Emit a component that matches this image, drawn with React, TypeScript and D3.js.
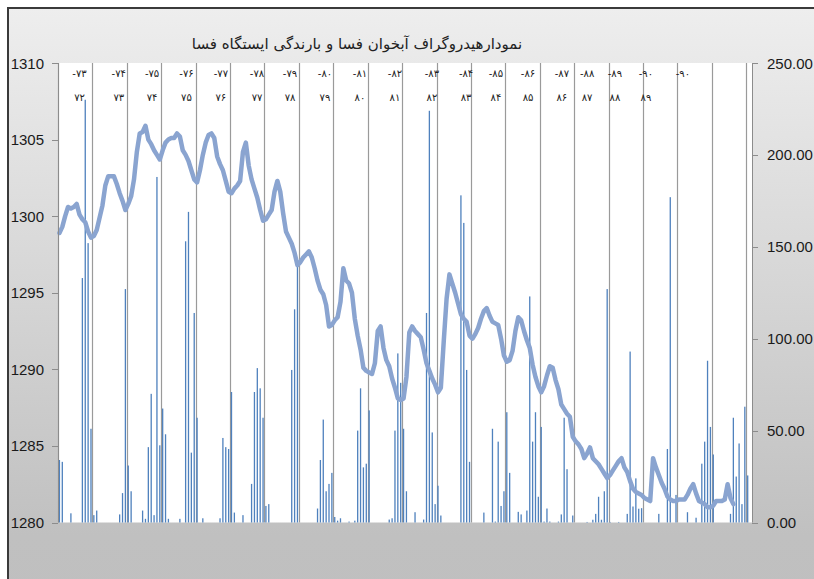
import React from "react";
import * as d3 from "d3";

// ---- data ----
const TITLE = "نمودارهیدروگراف آبخوان فسا و بارندگی ایستگاه فسا";
const MONTHS = 242;
const YEAR_LEN = 12;
const YEAR_COUNT = 21;

// groundwater level (m, left axis), one value per month
const waterLevel = [
  1298.9, 1299.3, 1300.0, 1300.6, 1300.5, 1300.6, 1300.8, 1300.1, 1299.8, 1299.6,
  1299.0, 1298.6, 1298.7, 1299.1, 1299.9, 1300.7, 1302.0, 1302.6, 1302.6, 1302.6,
  1302.1, 1301.5, 1301.0, 1300.4, 1300.8, 1301.3, 1302.4, 1304.2, 1305.4, 1305.5,
  1305.9, 1305.0, 1304.7, 1304.3, 1304.0, 1303.7, 1304.3, 1304.8, 1305.0, 1305.1,
  1305.1, 1305.4, 1305.2, 1304.3, 1304.0, 1303.6, 1303.0, 1302.4, 1302.2, 1303.0,
  1304.0, 1304.8, 1305.3, 1305.4, 1305.1, 1303.9, 1303.4, 1303.0, 1302.3, 1301.6,
  1301.5, 1301.8, 1302.0, 1302.3, 1304.2, 1304.8, 1303.3, 1302.4, 1301.8, 1301.2,
  1300.4, 1299.7, 1299.8, 1300.1, 1300.4, 1301.6, 1302.3, 1301.6, 1300.2, 1299.0,
  1298.6, 1298.2, 1297.6, 1296.8, 1297.0, 1297.3, 1297.5, 1297.7, 1297.3, 1296.6,
  1295.8, 1295.2, 1294.9, 1294.2, 1292.8, 1292.9, 1293.2, 1293.4, 1294.4, 1296.6,
  1295.8, 1295.6, 1295.0, 1293.3, 1292.2, 1291.3, 1290.1, 1289.9, 1289.8, 1289.7,
  1290.4, 1292.5, 1292.8, 1291.4, 1290.6, 1290.2, 1289.4, 1288.8, 1288.1, 1288.0,
  1288.1, 1289.5, 1292.4, 1292.8, 1292.5, 1292.3, 1292.1, 1291.3, 1290.4, 1289.9,
  1289.4, 1289.0, 1288.5, 1288.8, 1291.8, 1294.6, 1296.2, 1295.6, 1295.0, 1294.3,
  1293.6, 1293.3, 1293.1, 1292.2, 1292.0, 1292.3, 1292.7, 1293.3, 1293.8, 1294.0,
  1293.5, 1293.1, 1293.0, 1292.9, 1292.0, 1290.9, 1290.5, 1290.6, 1291.2, 1292.5,
  1293.4, 1293.2, 1292.5, 1291.9, 1291.4, 1290.3, 1289.5, 1288.9, 1288.5, 1288.9,
  1289.6, 1290.2, 1290.1, 1289.3, 1288.7, 1287.7, 1287.4, 1287.1, 1286.9, 1285.6,
  1285.3, 1285.1, 1284.8, 1284.2, 1284.5, 1284.9, 1284.2, 1284.0, 1283.8, 1283.5,
  1283.2, 1282.9, 1283.1, 1283.4, 1283.7, 1284.0, 1284.2, 1283.6, 1283.3, 1282.7,
  1282.2, 1282.0, 1281.9, 1281.8, 1281.6, 1281.5, 1281.4, 1284.2, 1283.6, 1283.1,
  1282.6, 1282.2, 1281.7, 1281.5, 1281.4, 1281.4, 1281.5, 1281.5, 1281.5, 1281.8,
  1282.2, 1282.5, 1281.9, 1281.4, 1281.3, 1281.2, 1281.0, 1281.0, 1281.1, 1281.4,
  1281.4, 1281.4, 1281.5, 1282.5, 1281.6, 1281.2,
];

// monthly rainfall (mm, right axis): month index and amount
const rainMonth = [
  0, 1, 4, 8, 9, 10, 11, 12, 13, 21, 22, 23, 24, 25, 29, 30, 31, 32, 33, 34,
  35, 36, 37, 38, 42, 44, 45, 46, 47, 48, 50, 56, 57, 58, 59, 60, 61, 64, 67, 68,
  69, 70, 71, 72, 73, 81, 82, 83, 90, 91, 92, 93, 94, 95, 96, 97, 98, 101, 103, 104,
  105, 106, 107, 108, 115, 116, 117, 118, 119, 120, 121, 124, 127, 128, 129, 130, 131, 132, 133, 140,
  141, 142, 143, 148, 151, 152, 153, 154, 155, 156, 157, 160, 161, 163, 164, 165, 166, 167, 168, 169,
  170, 171, 174, 175, 176, 177, 179, 184, 186, 187, 188, 189, 190, 191, 192, 195, 198, 199, 200, 201,
  202, 203, 209, 212, 213, 215, 219, 222, 224, 225, 226, 227, 228, 234, 235, 236, 237, 238, 239, 240,
];
const rainMm = [
  34, 33, 5, 133, 230, 152, 51, 4, 6.5, 4.4, 16, 127, 31, 17, 6.5, 2, 41, 70, 4, 188,
  42, 62, 48, 2, 2, 153, 169, 38, 114, 57, 2.3, 2.3, 46, 41, 40, 71, 5.4, 4, 21, 71,
  84, 73, 57, 9, 10, 83, 116, 141, 7.6, 34, 56, 17, 21, 27, 3, 1, 2.3, 0.5, 1, 50,
  73, 30, 32, 61, 1.6, 2.3, 50, 92, 76, 51, 17, 5.6, 1.6, 114, 224, 49, 10, 20, 3.8, 178,
  163, 83, 33, 5.4, 51, 0.5, 44, 9, 17, 60, 27, 5.8, 4.4, 6.5, 123, 44, 60, 14, 52, 0.5,
  7.6, 0.5, 0.5, 4.4, 57, 29, 3.8, 0.3, 1.5, 4.7, 14, 1.5, 17, 127, 0.3, 0.3, 4.7, 93, 8.7, 24,
  7.5, 7.8, 4.7, 40, 177, 15, 5.6, 2.6, 32, 44, 88, 52, 37, 4.7, 57, 25, 43, 10, 63, 25.6,
];

// water-year labels (two lines) and the month they sit over
const labelTop = [
  "-۷۳", "-۷۴", "-۷۵", "-۷۶", "-۷۷", "-۷۸", "-۷۹", "-۸۰", "-۸۱", "-۸۲",
  "-۸۳", "-۸۴", "-۸۵", "-۸۶", "-۸۷", "-۸۸", "-۸۹", "-۹۰", "-۹۰",
];
const labelBottom = [
  "۷۲", "۷۳", "۷۴", "۷۵", "۷۶", "۷۷", "۷۸", "۷۹", "۸۰", "۸۱",
  "۸۲", "۸۳", "۸۴", "۸۵", "۸۶", "۸۷", "۸۸", "۸۹", "",
];
const labelMonth = [
  7.5, 21.2, 32.8, 44.8, 56.8, 69.4, 80.9, 93.1, 105.3, 117.5,
  130.4, 142.3, 152.7, 163.9, 175.7, 184.5, 194.2, 205.0, 217.9,
];

const leftTicks = [1280, 1285, 1290, 1295, 1300, 1305, 1310];
const rightTicks = [0, 50, 100, 150, 200, 250];

export default function App() {
  const W = 814, H = 579;
  const left = 58, right = 752, top = 63, bottom = 522.5;

  const x = d3.scaleLinear().domain([0, MONTHS]).range([left, right]);
  const yL = d3.scaleLinear().domain([1280, 1310]).range([bottom, top]);
  const yR = d3.scaleLinear().domain([0, 250]).range([bottom, top]);
  const barW = 1.3;

  const line = d3
    .line<number>()
    .x((_, i) => x(i + 0.5))
    .y((d) => yL(d))
    .curve(d3.curveLinear);

  const yearLines = d3.range(0, YEAR_COUNT).map((k) => k * YEAR_LEN);

  const axisFont = "'Liberation Sans', Arial, sans-serif";
  const faFont = "'DejaVu Sans', sans-serif";

  return (
    <svg
      width={W}
      height={H}
      style={{ position: "absolute", left: 0, top: 0, display: "block" }}
    >
      <defs>
        <linearGradient id="bg" x1="0" y1="0" x2="0" y2="1">
          <stop offset="0" stopColor="#eeeeee" />
          <stop offset="0.88" stopColor="#c0c0c0" />
          <stop offset="1" stopColor="#bfbfbf" />
        </linearGradient>
      </defs>
      <rect x={0} y={0} width={W} height={H} fill="#ffffff" />
      <rect
        x={8}
        y={8}
        width={830}
        height={600}
        fill="url(#bg)"
        stroke="#3a3a3a"
        strokeWidth={2}
      />
      <text
        x={357}
        y={49}
        textAnchor="middle"
        fontFamily={faFont}
        fontSize={15}
        fill="#222"
        direction="rtl"
      >
        {TITLE}
      </text>

      {/* plot area */}
      <rect x={left} y={top} width={right - left} height={bottom - top} fill="#ffffff" />

      {/* year separators */}
      {yearLines.map((m) => (
        <line
          key={"g" + m}
          x1={Math.round(x(m)) + 0.5}
          x2={Math.round(x(m)) + 0.5}
          y1={top}
          y2={bottom}
          stroke="#9a9a9a"
          strokeWidth={1.2}
        />
      ))}

      {/* rainfall bars */}
      {rainMonth.map((m, i) => (
        <rect
          key={"b" + i}
          x={x(m + 0.5) - barW / 2}
          y={yR(rainMm[i])}
          width={barW}
          height={bottom - yR(rainMm[i])}
          fill="#4f81bd"
        />
      ))}

      {/* hydrograph */}
      <path
        d={line(waterLevel) || ""}
        fill="none"
        stroke="#8aa4d0"
        strokeWidth={4.5}
        strokeLinejoin="round"
        strokeLinecap="round"
      />

      {/* axes */}
      <line x1={left + 0.5} x2={left + 0.5} y1={top} y2={bottom} stroke="#8c8c8c" />
      <line x1={right + 0.5} x2={right + 0.5} y1={top} y2={bottom} stroke="#8c8c8c" />
      {leftTicks.map((t) => (
        <g key={"l" + t}>
          <line
            x1={left - 6}
            x2={left}
            y1={Math.round(yL(t)) + 0.5}
            y2={Math.round(yL(t)) + 0.5}
            stroke="#8c8c8c"
          />
          <text
            x={44}
            y={yL(t) + 5.5}
            textAnchor="end"
            fontFamily={axisFont}
            fontSize={15}
            fill="#1a1a1a"
          >
            {t}
          </text>
        </g>
      ))}
      {rightTicks.map((t) => (
        <g key={"r" + t}>
          <line
            x1={right}
            x2={right + 6}
            y1={Math.round(yR(t)) + 0.5}
            y2={Math.round(yR(t)) + 0.5}
            stroke="#8c8c8c"
          />
          <text
            x={767}
            y={yR(t) + 5.5}
            textAnchor="start"
            fontFamily={axisFont}
            fontSize={15}
            fill="#1a1a1a"
          >
            {t.toFixed(2)}
          </text>
        </g>
      ))}

      {/* year labels */}
      {labelMonth.map((m, i) => (
        <g key={"t" + i} fontFamily={faFont} fontSize={10} fill="#222">
          <text x={x(m)} y={77} textAnchor="middle" direction="ltr">
            {labelTop[i]}
          </text>
          <text x={x(m)} y={101} textAnchor="middle" direction="ltr">
            {labelBottom[i]}
          </text>
        </g>
      ))}
    </svg>
  );
}
